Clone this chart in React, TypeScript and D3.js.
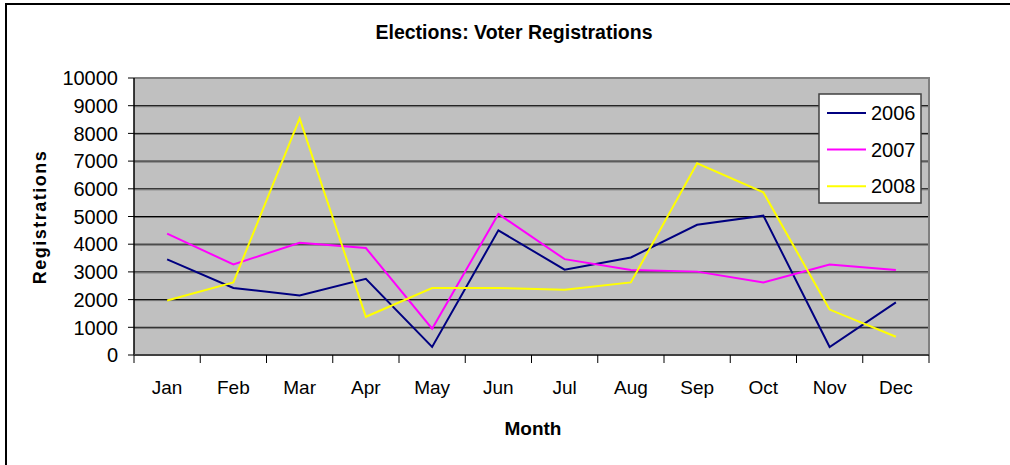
import * as d3 from "d3";

const months = ["Jan", "Feb", "Mar", "Apr", "May", "Jun", "Jul", "Aug", "Sep", "Oct", "Nov", "Dec"];
const years = ["2006", "2007", "2008"];
const v2006 = [3450, 2420, 2150, 2750, 290, 4500, 3080, 3520, 4700, 5030, 290, 1900];
const v2007 = [4380, 3270, 4050, 3860, 950, 5090, 3460, 3070, 3010, 2620, 3270, 3070];
const v2008 = [1970, 2620, 8540, 1380, 2420, 2420, 2360, 2620, 6920, 5870, 1640, 660];
const yTicks = [0, 1000, 2000, 3000, 4000, 5000, 6000, 7000, 8000, 9000, 10000];
const colors = ["#000080", "#FF00FF", "#FFFF00"];

const W = 1010;
const H = 465;
const m = { left: 134, right: 929, top: 78, bottom: 355 };
const font = "'Liberation Sans', Arial, sans-serif";

export default function App() {
  const series = [v2006, v2007, v2008];
  const x = d3.scaleBand<string>().domain(months).range([m.left, m.right]);
  const y = d3.scaleLinear().domain([0, 10000]).range([m.bottom, m.top]);
  const line = d3
    .line<number>()
    .x((_, i) => (x(months[i]) as number) + x.bandwidth() / 2)
    .y((d) => y(d));

  const bounds = months.map((mo) => x(mo) as number).concat([m.right]);

  return (
    <svg width={W} height={H} style={{ position: "absolute", left: 0, top: 0 }}>
      <rect x={0} y={0} width={W} height={H} fill="#fff" />
      {/* chart border */}
      <rect x={6} y={4} width={W + 10} height={H + 10} fill="none" stroke="#000" strokeWidth={2} />

      <text x={514} y={39} textAnchor="middle" fontFamily={font} fontWeight="bold" fontSize={19.5}>
        Elections:  Voter Registrations
      </text>

      {/* plot area */}
      <rect x={m.left} y={m.top} width={m.right - m.left} height={m.bottom - m.top} fill="#C0C0C0" />
      {yTicks.slice(1, -1).map((t) => (
        <g key={t}>
          <line x1={m.left} x2={m.right} y1={y(t)} y2={y(t)} stroke="#000" strokeWidth={1} />
          <line x1={m.left} x2={m.right} y1={y(t) + 1} y2={y(t) + 1} stroke="#707070" strokeWidth={1} />
        </g>
      ))}
      <path
        d={`M${m.left},${m.top}H${m.right}V${m.bottom}`}
        fill="none"
        stroke="#808080"
        strokeWidth={2}
      />

      {/* y axis */}
      <line x1={m.left} x2={m.left} y1={m.top} y2={m.bottom} stroke="#000" strokeWidth={1.5} />
      {yTicks.map((t) => (
        <g key={t}>
          <line x1={m.left - 6} x2={m.left} y1={y(t)} y2={y(t)} stroke="#000" strokeWidth={1} />
          <text
            x={m.left - 16}
            y={y(t)}
            dy="0.36em"
            textAnchor="end"
            fontFamily={font}
            fontSize={20}
          >
            {t}
          </text>
        </g>
      ))}

      {/* x axis */}
      <line x1={m.left} x2={m.right} y1={m.bottom} y2={m.bottom} stroke="#404040" strokeWidth={2} />
      {bounds.map((b, i) => (
        <line key={i} x1={b} x2={b} y1={m.bottom} y2={m.bottom + 8} stroke="#000" strokeWidth={1} />
      ))}
      {months.map((mo) => (
        <text
          key={mo}
          x={(x(mo) as number) + x.bandwidth() / 2}
          y={394}
          textAnchor="middle"
          fontFamily={font}
          fontSize={19}
        >
          {mo}
        </text>
      ))}

      <text x={533} y={435} textAnchor="middle" fontFamily={font} fontWeight="bold" fontSize={19}>
        Month
      </text>
      <text
        transform={`translate(46,217) rotate(-90)`}
        textAnchor="middle"
        fontFamily={font}
        fontWeight="bold"
        fontSize={18}
        letterSpacing={1.5}
      >
        Registrations
      </text>

      {/* lines */}
      {series.map((s, i) => (
        <path key={i} d={line(s) as string} fill="none" stroke={colors[i]} strokeWidth={2} />
      ))}

      {/* legend */}
      <rect x={819} y={94} width={102} height={109} fill="#fff" stroke="#404040" strokeWidth={1.5} />
      {years.map((yr, i) => (
        <g key={yr} transform={`translate(0,${113 + i * 36.6})`}>
          <line x1={827} x2={866} y1={0} y2={0} stroke={colors[i]} strokeWidth={2} />
          <text x={871} y={0} dy="0.36em" fontFamily={font} fontSize={20}>
            {yr}
          </text>
        </g>
      ))}
    </svg>
  );
}
